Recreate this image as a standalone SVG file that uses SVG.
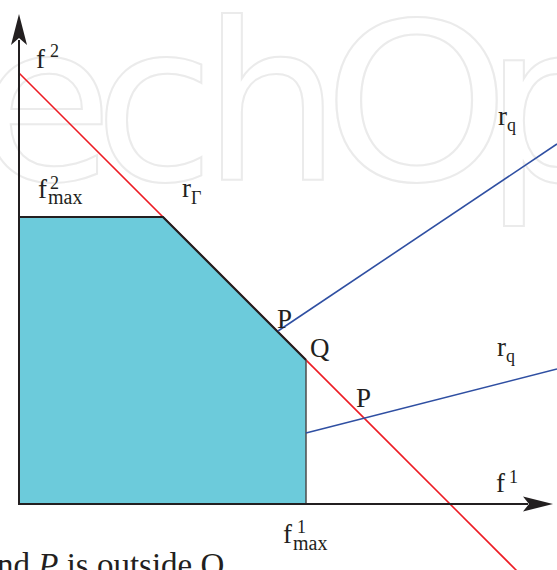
<svg xmlns="http://www.w3.org/2000/svg" width="557" height="570" viewBox="0 0 557 570">
<style>
.wm{font-family:"DejaVu Sans",sans-serif;font-size:220px;fill:none;stroke:#ebebeb;stroke-width:2}
.t{font-family:"Liberation Serif","Times New Roman",serif;font-size:27px;fill:#231f20}
.s{font-size:18px}
.m{font-size:20px}
.axis{stroke:#231f20;stroke-width:2;fill:none}
.red{stroke:#ed1c24;stroke-width:1.6;fill:none}
.blue{stroke:#2f4fa2;stroke-width:1.6;fill:none}
.edge{stroke:#231f20;stroke-width:2.2;fill:none}
</style>
<rect width="557" height="570" fill="#ffffff"/>
<g id="watermark">
<text class="wm" x="-22 94 202" y="180">ech</text>
<text class="wm" x="324" y="180" transform="translate(336,0) scale(1.08,1) translate(-336,0)">O</text>
<text class="wm" x="484 624 760" y="180">pen</text>
</g>
<g id="connectors">
<line class="red" x1="19" y1="73" x2="517" y2="571"/>
</g>
<g id="region">
<polygon points="19,217 163,217 306,360 306,504 19,504" fill="#6ccbdb"/>
<line x1="306" y1="360" x2="306" y2="504" stroke="#4d4d4d" stroke-width="1.5"/>
<polyline class="edge" points="19,217 163,217 306,360"/>
</g>
<g id="rays">
<line class="blue" x1="278" y1="331" x2="557" y2="144"/>
<line class="blue" x1="306" y1="433" x2="557" y2="369"/>
</g>
<g id="axes">
<line class="axis" x1="19" y1="505" x2="19" y2="40"/>
<polygon points="19,14 27,45 19,38 11,45" fill="#231f20"/>
<line class="axis" x1="18" y1="504" x2="528" y2="504"/>
<polygon points="553,504 523,496.5 529,504 523,511.5" fill="#231f20"/>
</g>
<g id="labels" class="t">
<text x="36" y="68">f<tspan class="s" x="50" y="57">2</tspan></text>
<text x="38" y="198">f<tspan class="s" x="50" y="189">2</tspan><tspan class="m" x="48" y="204">max</tspan></text>
<text x="182" y="197">r<tspan class="s" x="191" y="204">Γ</tspan></text>
<text x="498" y="125">r<tspan class="s" x="507" y="131">q</tspan></text>
<text x="497" y="356">r<tspan class="s" x="506" y="362">q</tspan></text>
<text x="277" y="328">P</text>
<text x="310" y="357">Q</text>
<text x="356" y="407">P</text>
<text x="496" y="492">f<tspan class="s" x="509" y="483">1</tspan></text>
<text x="283" y="543">f<tspan class="s" x="297" y="533">1</tspan><tspan class="m" x="293" y="550">max</tspan></text>
<text x="-3" y="576" style="font-size:33px">nd <tspan font-style="italic">P</tspan> is outside Q</text>
</g>
</svg>
